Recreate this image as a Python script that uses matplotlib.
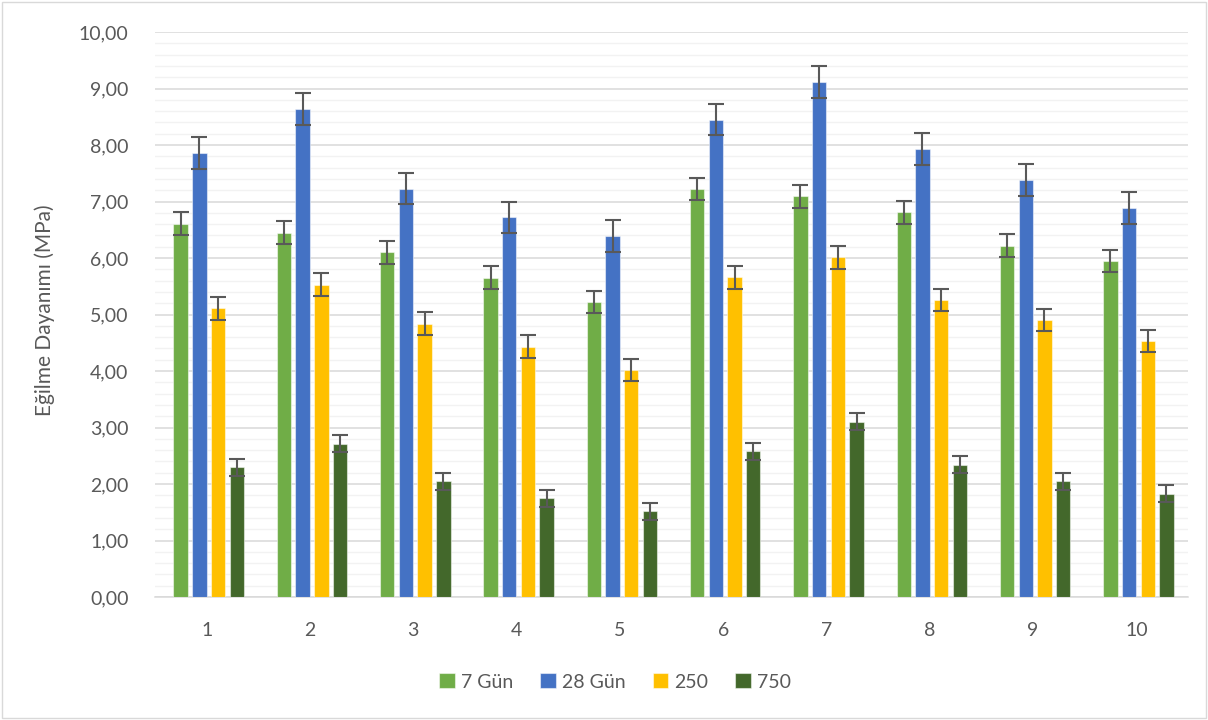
import matplotlib
matplotlib.use("Agg")
import matplotlib.pyplot as plt
import numpy as np
from matplotlib.patches import Rectangle

categories = ["1", "2", "3", "4", "5", "6", "7", "8", "9", "10"]
series_names = ["7 Gün", "28 Gün", "250", "750"]
gun7 = [6.61, 6.45, 6.10, 5.65, 5.22, 7.22, 7.09, 6.81, 6.22, 5.95]
gun28 = [7.86, 8.64, 7.23, 6.72, 6.39, 8.45, 9.11, 7.93, 7.38, 6.89]
s250 = [5.11, 5.53, 4.84, 4.43, 4.02, 5.66, 6.01, 5.26, 4.90, 4.53]
s750 = [2.30, 2.71, 2.05, 1.75, 1.52, 2.58, 3.10, 2.34, 2.05, 1.83]
err7 = [0.20] * 10
err28 = [0.28] * 10
err250 = [0.20] * 10
err750 = [0.15] * 10
colors = ["#70ad47", "#4472c4", "#ffc000", "#43682b"]
y_label = "Eğilme Dayanımı (MPa)"

plt.rcParams['font.family'] = ['Lato', 'DejaVu Sans']

fig = plt.figure(figsize=(12.08, 7.2), dpi=100)
ax = fig.add_axes([155/1208, 1-597/720, (1188-155)/1208, (597-32)/720])

x = np.arange(len(categories))
width = 0.139
pitch = 0.181
data = [gun7, gun28, s250, s750]
errs = [err7, err28, err250, err750]
for i, (vals, e, c, name) in enumerate(zip(data, errs, colors, series_names)):
    pos = x + (i - 1.5) * pitch + 0.02
    ax.bar(pos, vals, width, color=c, label=name, zorder=3,
           edgecolor=(1, 1, 1, 0.5), linewidth=0.8)
    ax.errorbar(pos, vals, yerr=e, fmt='none', ecolor='#595959',
                elinewidth=1.5, capsize=6, capthick=1.5, zorder=4)

ax.set_xlim(-0.5, len(categories) - 0.5)
ax.set_ylim(0, 10)
ax.set_yticks(np.arange(0, 10.01, 1))
ax.set_yticklabels([f"{v:.2f}".replace('.', ',') for v in np.arange(0, 10.01, 1)])
ax.set_yticks(np.arange(0, 10.01, 0.2), minor=True)
ax.set_xticks(x)
ax.set_xticklabels(categories)
ax.grid(axis='y', which='major', color='#d9d9d9', linewidth=1.1, zorder=0)
ax.grid(axis='y', which='minor', color='#f2f2f2', linewidth=1.0, zorder=0)
ax.tick_params(axis='both', which='both', length=0, labelsize=14,
               colors='#595959')
ax.tick_params(axis='y', pad=19)
ax.tick_params(axis='x', pad=18)
for s in ['top', 'right', 'left']:
    ax.spines[s].set_visible(False)
ax.spines['bottom'].set_color('#d9d9d9')
ax.spines['bottom'].set_linewidth(1.1)
ax.set_axisbelow(True)

fig.text(45/1208, 1 - 310/720, y_label, rotation=90, ha='center', va='center',
         fontsize=15, color='#595959')

leg = fig.legend(loc='center', bbox_to_anchor=(615/1208, 1 - 682/720), ncol=4,
                 frameon=False, fontsize=14, handlelength=0.8, handleheight=0.8,
                 handletextpad=0.3, columnspacing=1.4)
for t in leg.get_texts():
    t.set_color('#595959')

fig.patches.append(Rectangle((2/1208, 2/720), 1204/1208, 716/720,
                             transform=fig.transFigure, fill=False,
                             edgecolor='#d9d9d9', linewidth=1))

fig.savefig("out.png", dpi=100)
